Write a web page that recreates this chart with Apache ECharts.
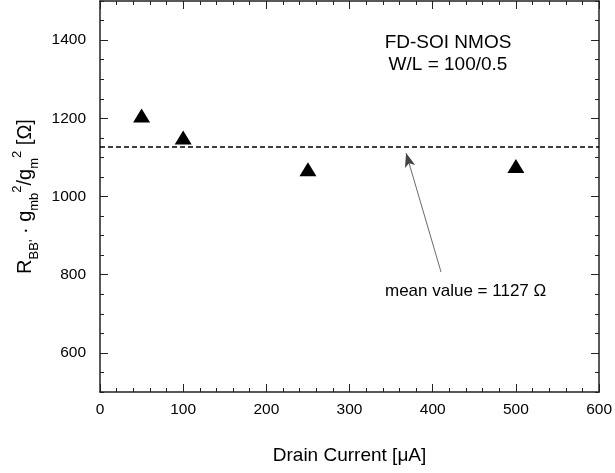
<!DOCTYPE html>
<html>
<head>
<meta charset="utf-8">
<script src="https://cdn.jsdelivr.net/npm/echarts@6/dist/echarts.min.js"></script>
<style>
  html, body { margin: 0; padding: 0; background: #fff; }
  #chart { width: 615px; height: 473px; }
</style>
</head>
<body>
<div id="chart"></div>
<script>
// Drain current values [µA] and the measured R_BB'·gmb²/gm² [Ω]
const drainCurrent = [50, 100, 250, 500];
const resistance = [1207, 1151, 1070, 1078];
const meanValue = 1127;

// Axis ticks
const yMajorTicks = [600, 800, 1000, 1200, 1400];
const yMinorTicks = [];
for (let v = 500; v <= 1500; v += 50) yMinorTicks.push(v);

// Annotation arrow: tail and head in data coordinates
const arrowTail = [410, 807];
const arrowHead = [368, 1111];

const FONT = '"Liberation Sans", Arial, sans-serif';
const AXIS_COLOR = '#222';

const points = drainCurrent.map((x, i) => [x, resistance[i]]);

const chart = echarts.init(document.getElementById('chart'), null, { renderer: 'canvas' });

const yBase = {
  type: 'value', min: 500, max: 1500,
  splitLine: { show: false },
  axisLine: { show: true, lineStyle: { color: AXIS_COLOR, width: 1.5 } }
};

const plainNumber = v => String(v);

chart.setOption({
  animation: false,
  backgroundColor: '#fff',
  grid: { left: 100, right: 12, top: 1, bottom: 81, containLabel: false },
  xAxis: [
    {
      type: 'value', min: 0, max: 600, interval: 100,
      position: 'bottom',
      name: 'Drain Current [μA]',
      nameLocation: 'middle', nameGap: 54,
      nameTextStyle: { fontFamily: FONT, fontSize: 19, color: '#000' },
      axisLine: { show: true, onZero: false, lineStyle: { color: AXIS_COLOR, width: 1.5 } },
      axisTick: { show: true, inside: true, length: 8, lineStyle: { color: AXIS_COLOR, width: 1 } },
      minorTick: { show: true, splitNumber: 5, length: 4, lineStyle: { color: AXIS_COLOR, width: 1 } },
      axisLabel: { show: true, margin: 10, formatter: plainNumber, fontFamily: FONT, fontSize: 15.5, color: '#000' },
      splitLine: { show: false }
    },
    {
      type: 'value', min: 0, max: 600, interval: 100,
      position: 'top',
      axisLine: { show: true, onZero: false, lineStyle: { color: AXIS_COLOR, width: 1.5 } },
      axisTick: { show: true, inside: true, length: 8, lineStyle: { color: AXIS_COLOR, width: 1 } },
      minorTick: { show: true, splitNumber: 5, length: 4, lineStyle: { color: AXIS_COLOR, width: 1 } },
      axisLabel: { show: false },
      splitLine: { show: false }
    }
  ],
  yAxis: [
    Object.assign({}, yBase, {
      position: 'left',
      name: "{b|R}{sub|BB'}{b| · g}{sub|mb}{sup|2}{b|/g}{sub|m}{sup|2}{b| [Ω]}",
      nameLocation: 'middle', nameRotate: 90, nameGap: 58,
      nameTextStyle: {
        fontFamily: FONT, fontSize: 20, color: '#000',
        rich: {
          b: { fontFamily: FONT, fontSize: 20, color: '#000', lineHeight: 30, verticalAlign: 'middle' },
          sub: { fontFamily: FONT, fontSize: 13, color: '#000', lineHeight: 13, verticalAlign: 'bottom' },
          sup: { fontFamily: FONT, fontSize: 13, color: '#000', lineHeight: 13, verticalAlign: 'top' }
        }
      },
      axisTick: { show: true, inside: true, length: 8, customValues: yMajorTicks, lineStyle: { color: AXIS_COLOR, width: 1 } },
      axisLabel: { show: true, margin: 14, customValues: yMajorTicks, formatter: plainNumber, fontFamily: FONT, fontSize: 15.5, color: '#000' }
    }),
    Object.assign({}, yBase, {
      position: 'left',
      axisLine: { show: false },
      axisTick: { show: true, inside: true, length: 4, customValues: yMinorTicks, lineStyle: { color: AXIS_COLOR, width: 1 } },
      axisLabel: { show: false }
    }),
    Object.assign({}, yBase, {
      position: 'right',
      axisTick: { show: true, inside: true, length: 8, customValues: yMajorTicks, lineStyle: { color: AXIS_COLOR, width: 1 } },
      axisLabel: { show: false }
    }),
    Object.assign({}, yBase, {
      position: 'right',
      axisLine: { show: false },
      axisTick: { show: true, inside: true, length: 4, customValues: yMinorTicks, lineStyle: { color: AXIS_COLOR, width: 1 } },
      axisLabel: { show: false }
    })
  ],
  series: [
    {
      type: 'scatter',
      xAxisIndex: 0, yAxisIndex: 0,
      data: points,
      symbol: 'triangle',
      symbolSize: [17, 14],
      itemStyle: { color: '#000', opacity: 1 },
      markLine: {
        silent: true,
        symbol: ['none', 'none'],
        label: { show: false },
        lineStyle: { color: '#000', type: [5, 3], width: 1.6, opacity: 1 },
        data: [{ yAxis: meanValue }]
      },
      z: 3
    },
    {
      type: 'scatter',
      xAxisIndex: 0, yAxisIndex: 0,
      data: [],
      markLine: {
        silent: true,
        symbol: ['none', 'arrow'],
        symbolSize: [8, 14],
        label: { show: false },
        lineStyle: { color: '#444', type: 'solid', width: 0.8, opacity: 1 },
        itemStyle: { color: '#000' },
        data: [[{ coord: arrowTail }, { coord: arrowHead }]]
      }
    }
  ],
  graphic: [
    {
      type: 'text', x: 448, y: 32,
      style: {
        text: 'FD-SOI NMOS\nW/L = 100/0.5',
        align: 'center', verticalAlign: 'top',
        fontFamily: FONT, fontSize: 19, lineHeight: 22, fill: '#000'
      }
    },
    {
      type: 'text', x: 385, y: 291,
      style: {
        text: 'mean value = ' + meanValue + ' Ω',
        align: 'left', verticalAlign: 'middle',
        fontFamily: FONT, fontSize: 17, fill: '#000'
      }
    }
  ]
});
</script>
</body>
</html>
